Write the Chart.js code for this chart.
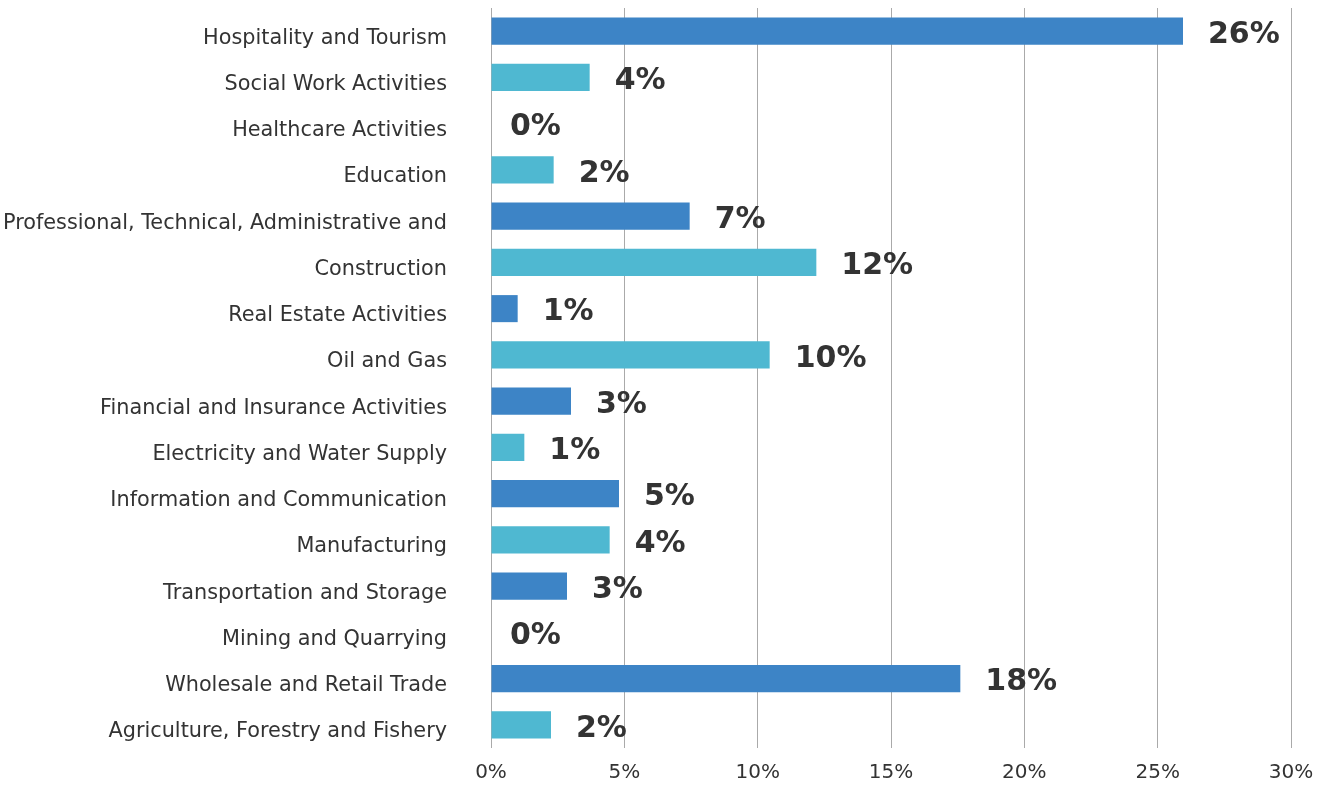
<!DOCTYPE html>
<html>
<head>
<meta charset="utf-8">
<script src="https://cdn.jsdelivr.net/npm/chart.js@4"></script>
<style>
  html, body { margin: 0; padding: 0; background: #fff; }
  #wrap { width: 1328px; height: 785px; }
</style>
</head>
<body>
<div id="wrap"><canvas id="sector-chart" width="1328" height="785"></canvas></div>
<script>
const sectors = [
  "Hospitality and Tourism",
  "Social Work Activities",
  "Healthcare Activities",
  "Education",
  "Professional, Technical, Administrative and",
  "Construction",
  "Real Estate Activities",
  "Oil and Gas",
  "Financial and Insurance Activities",
  "Electricity and Water Supply",
  "Information and Communication",
  "Manufacturing",
  "Transportation and Storage",
  "Mining and Quarrying",
  "Wholesale and Retail Trade",
  "Agriculture, Forestry and Fishery",
];
const shares = [25.95, 3.7, 0, 2.35, 7.45, 12.2, 1.0, 10.45, 3.0, 1.25, 4.8, 4.45, 2.85, 0, 17.6, 2.25];
const xTicks = [0, 5, 10, 15, 20, 25, 30];

const DARK = "#3d84c6";
const LIGHT = "#4fb8d1";
const TEXT = "#333333";
const FONT = "'DejaVu Sans', sans-serif";

// rounded percentage to the right of each bar
const valueLabels = {
  id: "valueLabels",
  afterDatasetsDraw(chart) {
    const ctx = chart.ctx;
    const meta = chart.getDatasetMeta(0);
    ctx.save();
    ctx.font = "bold 30px " + FONT;
    ctx.fillStyle = TEXT;
    ctx.textAlign = "left";
    ctx.textBaseline = "middle";
    meta.data.forEach((bar, i) => {
      const v = shares[i];
      const offset = v === 0 ? 19 : 25;
      ctx.fillText(Math.round(v) + "%", bar.x + offset, bar.y + 4);
    });
    ctx.restore();
  },
};

const ctx = document.getElementById("sector-chart").getContext("2d");
new Chart(ctx, {
  type: "bar",
  data: {
    labels: sectors,
    datasets: [
      {
        data: shares,
        backgroundColor: shares.map((_, i) => (i % 2 === 0 ? DARK : LIGHT)),
        barPercentage: 0.585,
        categoryPercentage: 1,
      },
    ],
  },
  options: {
    indexAxis: "y",
    responsive: false,
    animation: false,
    layout: { padding: { top: 8, right: 37, bottom: 0, left: 0 } },
    plugins: {
      legend: { display: false },
      tooltip: { enabled: false },
    },
    scales: {
      x: {
        min: 0,
        max: 30,
        afterBuildTicks: (scale) => {
          scale.ticks = xTicks.map((value) => ({ value }));
        },
        afterFit: (scale) => {
          scale.height = 37;
        },
        grid: { color: "#aaaaaa", lineWidth: 1, drawTicks: false },
        border: { display: false },
        ticks: {
          padding: 13,
          color: TEXT,
          font: { family: FONT, size: 20 },
          callback: (value) => value + "%",
        },
      },
      y: {
        afterFit: (scale) => {
          scale.width = 491;
          scale.paddingTop = 0;
          scale.paddingBottom = 0;
        },
        grid: { display: false, drawTicks: false },
        border: { display: false },
        ticks: {
          padding: 44,
          labelOffset: 7,
          color: TEXT,
          font: { family: FONT, size: 20.8 },
        },
      },
    },
  },
  plugins: [valueLabels],
});
</script>
</body>
</html>
